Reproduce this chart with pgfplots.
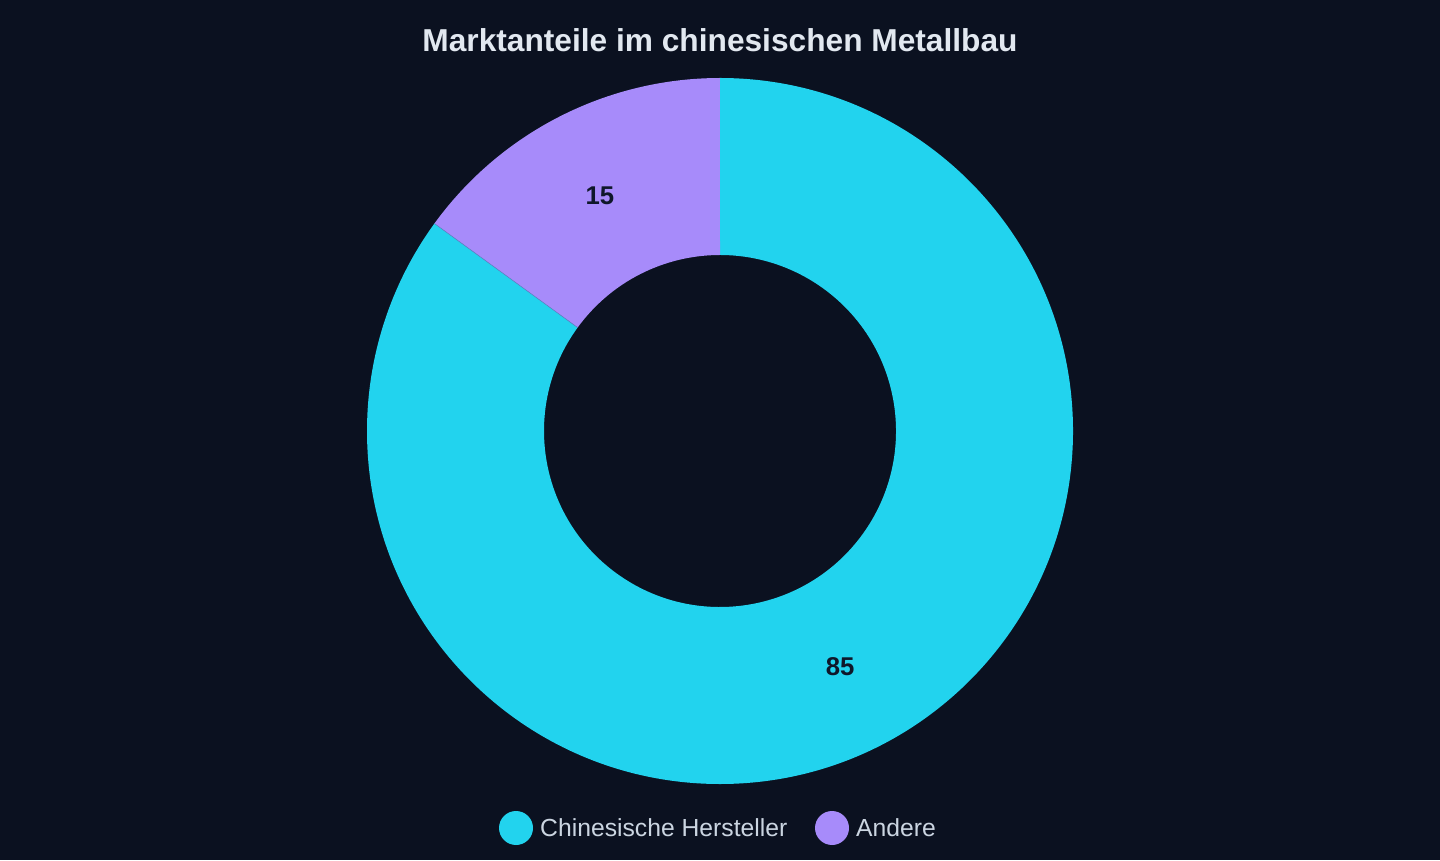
\documentclass[border=0pt]{standalone}
\usepackage{pgfplots}
\usepackage{pgfplotstable}
\pgfplotsset{compat=1.18}
\usepackage{fontspec}
\setmainfont{Liberation Sans}
\definecolor{bg}{HTML}{0B1120}
\definecolor{cyanc}{HTML}{22D3EE}
\definecolor{purplec}{HTML}{A78BFA}
\definecolor{titlec}{HTML}{E2E8F0}
\definecolor{legc}{HTML}{CBD5E1}
\definecolor{labc}{HTML}{0F172A}
\pgfplotstableread{
label value
Chinesische 85
Andere 15
}\datatable
\begin{document}
\begin{tikzpicture}[x=1bp,y=1bp]
\fill[bg] (0,0) rectangle (1440,860);
\begin{axis}[
  at={(0,0)}, anchor=origin, x=1bp, y=1bp,
  xmin=0, xmax=1440, ymin=0, ymax=860,
  hide axis, scale only axis, clip=false,
]
\pgfplotstablegetelem{0}{value}\of\datatable \let\va\pgfplotsretval
\pgfplotstablegetelem{1}{value}\of\datatable \let\vb\pgfplotsretval
\pgfmathsetmacro{\tot}{\va+\vb}
\pgfmathsetmacro{\aA}{90}
\pgfmathsetmacro{\aB}{90-360*(\va/\tot)}
\pgfmathsetmacro{\aC}{\aB-360*(\vb/\tot)}
\pgfmathsetmacro{\mA}{(\aA+\aB)/2}
\pgfmathsetmacro{\mB}{(\aB+\aC)/2}
% Chinese segment
\fill[cyanc] (axis cs:{720+353*cos(\aA)},{429+353*sin(\aA)}) arc[start angle=\aA, end angle=\aB, radius=353bp]
  -- (axis cs:{720+176*cos(\aB)},{429+176*sin(\aB)}) arc[start angle=\aB, end angle=\aA, radius=176bp] -- cycle;
% Andere segment
\fill[purplec] (axis cs:{720+353*cos(\aB)},{429+353*sin(\aB)}) arc[start angle=\aB, end angle=\aC, radius=353bp]
  -- (axis cs:{720+176*cos(\aC)},{429+176*sin(\aC)}) arc[start angle=\aC, end angle=\aB, radius=176bp] -- cycle;
\draw[purplec!60!cyanc!80!black, line width=0.6bp] (axis cs:{720+176*cos(\aB)},{429+176*sin(\aB)}) -- (axis cs:{720+353*cos(\aB)},{429+353*sin(\aB)});
\node[font=\bfseries\fontsize{25.8}{30}\selectfont, text=labc] at (axis cs:{720+264.5*cos(\mA)},{429+264.5*sin(\mA)}) {85};
\node[font=\bfseries\fontsize{25.8}{30}\selectfont, text=labc] at (axis cs:{720+264.5*cos(\mB)},{429+264.5*sin(\mB)}) {15};
% title
\node[font=\bfseries\fontsize{31.8}{36}\selectfont, text=titlec] at (axis cs:720,820) {Marktanteile im chinesischen Metallbau};
% legend
\fill[cyanc] (axis cs:516,32) circle[radius=17bp];
\node[anchor=west, inner sep=0pt, font=\fontsize{24.8}{29}\selectfont, text=legc] at (axis cs:540,32) {Chinesische Hersteller};
\fill[purplec] (axis cs:832,32) circle[radius=17bp];
\node[anchor=west, inner sep=0pt, font=\fontsize{24.8}{29}\selectfont, text=legc] at (axis cs:856,32) {Andere};
\end{axis}
\end{tikzpicture}
\end{document}
